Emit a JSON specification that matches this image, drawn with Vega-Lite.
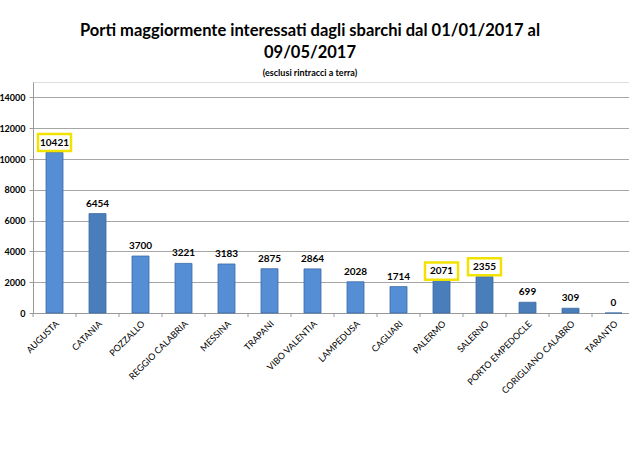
{
  "$schema": "https://vega.github.io/schema/vega-lite/v6.json",
  "width": 596,
  "height": 231,
  "autosize": {"type": "none"},
  "padding": {"left": 33, "top": 82, "right": 0, "bottom": 160},
  "background": "white",
  "title": {
    "text": ["Porti maggiormente interessati dagli sbarchi dal 01/01/2017 al", "09/05/2017"],
    "subtitle": "(esclusi rintracci  a terra)",
    "anchor": "middle",
    "frame": "group",
    "dx": -21,
    "font": "Lato",
    "fontSize": 16.5,
    "fontWeight": "bold",
    "lineHeight": 22,
    "color": "black",
    "subtitleFont": "Lato",
    "subtitleFontSize": 9,
    "subtitleFontWeight": "bold",
    "subtitleColor": "black",
    "subtitlePadding": 8,
    "offset": 4
  },
  "data": {
    "values": [
      {"porto": "AUGUSTA", "sbarchi": 10421, "tono": "chiaro", "evidenziato": true},
      {"porto": "CATANIA", "sbarchi": 6454, "tono": "scuro", "evidenziato": false},
      {"porto": "POZZALLO", "sbarchi": 3700, "tono": "chiaro", "evidenziato": false},
      {"porto": "REGGIO CALABRIA", "sbarchi": 3221, "tono": "chiaro", "evidenziato": false},
      {"porto": "MESSINA", "sbarchi": 3183, "tono": "chiaro", "evidenziato": false},
      {"porto": "TRAPANI", "sbarchi": 2875, "tono": "chiaro", "evidenziato": false},
      {"porto": "VIBO VALENTIA", "sbarchi": 2864, "tono": "chiaro", "evidenziato": false},
      {"porto": "LAMPEDUSA", "sbarchi": 2028, "tono": "chiaro", "evidenziato": false},
      {"porto": "CAGLIARI", "sbarchi": 1714, "tono": "chiaro", "evidenziato": false},
      {"porto": "PALERMO", "sbarchi": 2071, "tono": "scuro", "evidenziato": true},
      {"porto": "SALERNO", "sbarchi": 2355, "tono": "scuro", "evidenziato": true},
      {"porto": "PORTO EMPEDOCLE", "sbarchi": 699, "tono": "scuro", "evidenziato": false},
      {"porto": "CORIGLIANO CALABRO", "sbarchi": 309, "tono": "scuro", "evidenziato": false},
      {"porto": "TARANTO", "sbarchi": 0, "tono": "scuro", "evidenziato": false}
    ]
  },
  "encoding": {
    "x": {
      "field": "porto",
      "type": "nominal",
      "sort": null,
      "scale": {"range": [0, 602], "paddingInner": 0, "paddingOuter": 0},
      "axis": {
        "title": null,
        "labelAngle": -45,
        "labelAlign": "right",
        "labelBaseline": "top",
        "labelFont": "Lato",
        "labelFontSize": 9,
        "labelColor": "black",
        "labelPadding": 6,
        "ticks": false,
        "domainColor": "#999999",
        "grid": false
      }
    },
    "y": {
      "field": "sbarchi",
      "type": "quantitative",
      "scale": {"domain": [0, 15000], "nice": false},
      "axis": {
        "title": null,
        "format": "d",
        "values": [0, 2000, 4000, 6000, 8000, 10000, 12000, 14000],
        "labelFont": "Lato",
        "labelFontSize": 9,
        "labelFontWeight": "bold",
        "labelColor": "black",
        "labelPadding": 4,
        "tickSize": 4,
        "tickColor": "#999999",
        "domainColor": "#999999",
        "gridColor": "#A6A6A6",
        "gridWidth": 1
      }
    }
  },
  "layer": [
    {
      "mark": {"type": "rule", "color": "#999999", "strokeWidth": 1, "y2Offset": 4},
      "encoding": {
        "x": {"field": "porto", "type": "nominal", "sort": null, "bandPosition": 0},
        "y": {"datum": 0},
        "y2": {"datum": 0}
      }
    },
    {
      "mark": {"type": "bar", "width": 17, "stroke": "#3C6BA5", "strokeWidth": 0.8},
      "encoding": {
        "color": {
          "field": "tono",
          "type": "nominal",
          "scale": {"domain": ["chiaro", "scuro"], "range": ["#558ED5", "#4A7EBB"]},
          "legend": null
        }
      }
    },
    {
      "mark": {"type": "text", "font": "Lato", "fontSize": 10, "fontWeight": "bold", "color": "black", "baseline": "middle", "dy": -10},
      "encoding": {"text": {"field": "sbarchi", "type": "quantitative"}}
    },
    {
      "transform": [{"filter": "datum.evidenziato"}],
      "mark": {"type": "point", "shape": "M-1,-0.52H1V0.52H-1Z", "size": 1089, "filled": false, "stroke": "#F2E200", "strokeWidth": 2.5, "opacity": 1, "yOffset": -10},
      "encoding": {}
    }
  ]
}
